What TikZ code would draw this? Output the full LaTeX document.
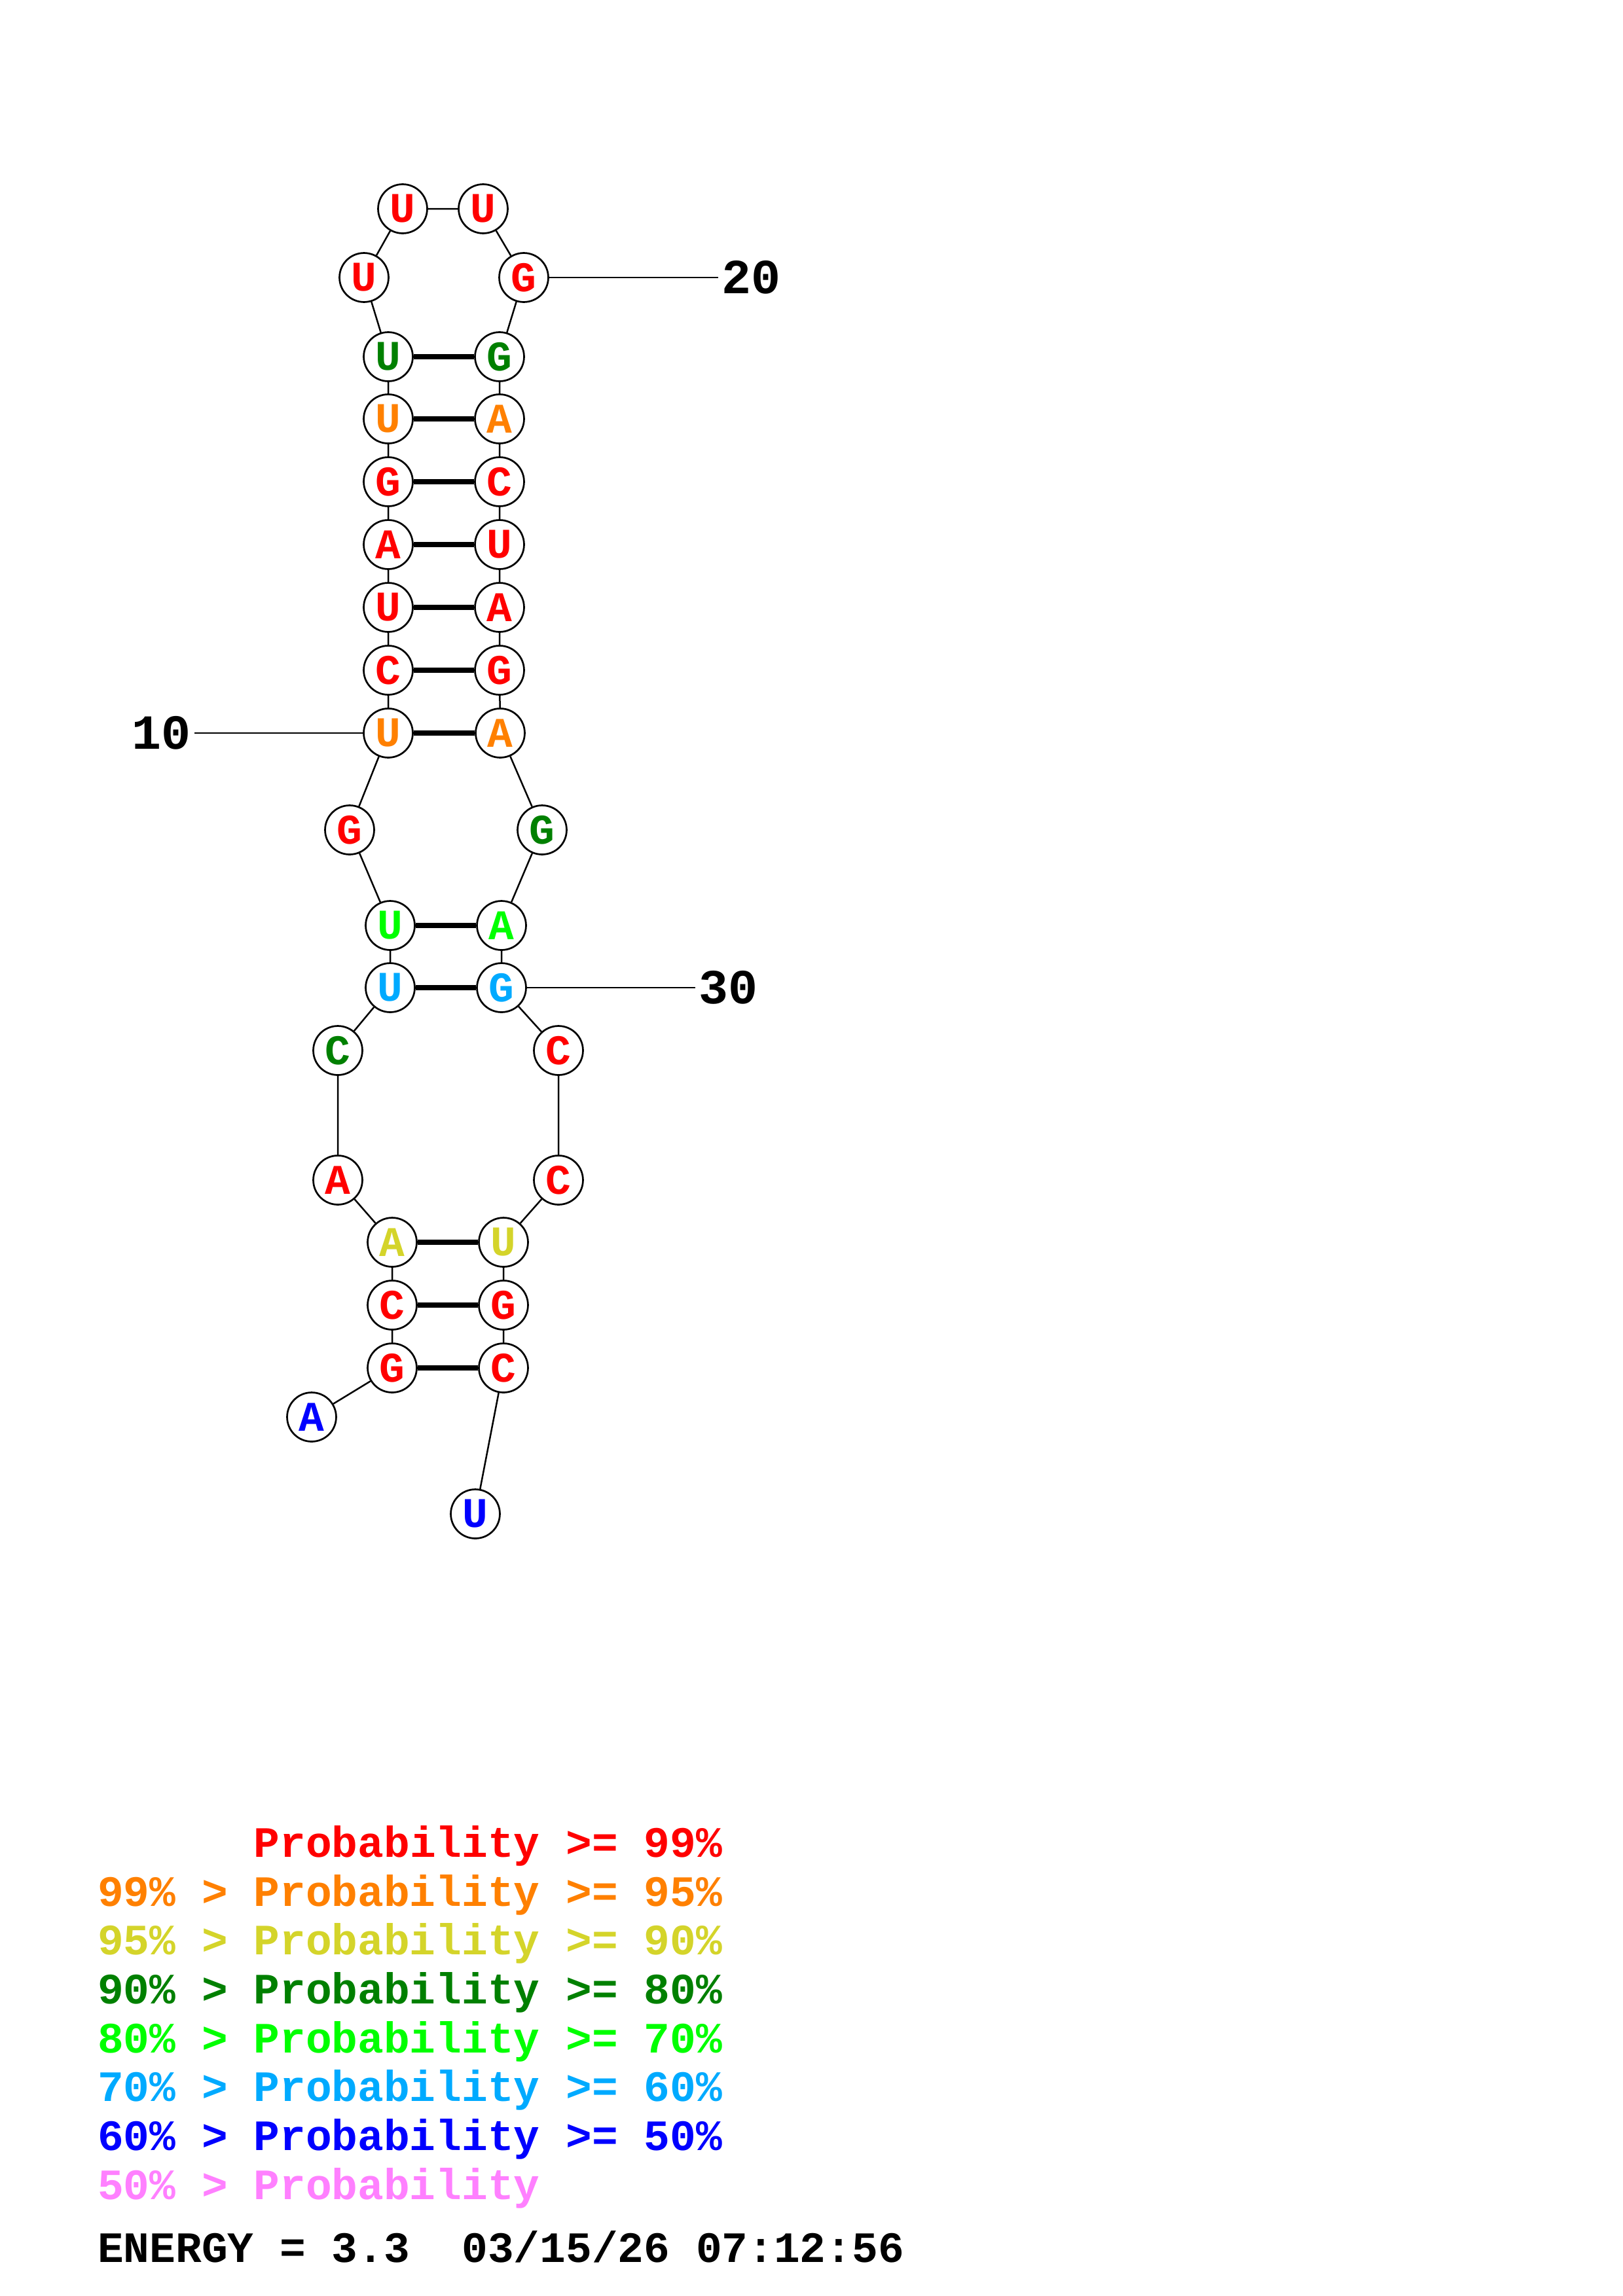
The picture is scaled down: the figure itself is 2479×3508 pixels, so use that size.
\documentclass[tikz,border=0pt]{standalone}
\usepackage{fontspec}
\setmonofont{Liberation Mono}
\usepackage{tikz}
\definecolor{pred}{RGB}{255,0,0}
\definecolor{porange}{RGB}{255,128,0}
\definecolor{pyellow}{RGB}{212,212,42}
\definecolor{pgreen}{RGB}{0,128,0}
\definecolor{plime}{RGB}{0,255,0}
\definecolor{psky}{RGB}{0,170,255}
\definecolor{pblue}{RGB}{0,0,255}
\definecolor{ppink}{RGB}{255,128,255}
\tikzset{nt/.style={circle,draw,fill=white,line width=.65pt,minimum size=18pt,inner sep=0pt,font=\ttfamily\bfseries\fontsize{15.5}{15.5}\selectfont}}
\tikzset{bond/.style={line width=1.9pt}}
\tikzset{lbl/.style={inner sep=1pt,font=\ttfamily\bfseries\fontsize{18}{18}\selectfont}}
\tikzset{key/.style={anchor=base west,inner sep=0pt,font=\ttfamily\bfseries\fontsize{15.9}{15.9}\selectfont}}
\begin{document}
\begin{tikzpicture}[x=0.24013pt,y=-0.24013pt,line width=.6pt]
      \useasboundingbox (0,0) rectangle (2479,3508);
      \node[nt,text=pblue] (n1) at (476,2165) {A};
      \node[nt,text=pred] (n2) at (599,2090) {G};
      \node[nt,text=pred] (n3) at (599,1994) {C};
      \node[nt,text=pyellow] (n4) at (599,1898) {A};
      \node[nt,text=pred] (n5) at (516,1803) {A};
      \node[nt,text=pgreen] (n6) at (516,1605) {C};
      \node[nt,text=psky] (n7) at (596,1509) {U};
      \node[nt,text=plime] (n8) at (596,1414) {U};
      \node[nt,text=pred] (n9) at (534,1268) {G};
      \node[nt,text=porange] (n10) at (593,1120) {U};
      \node[nt,text=pred] (n11) at (593,1024) {C};
      \node[nt,text=pred] (n12) at (593,928) {U};
      \node[nt,text=pred] (n13) at (593,832) {A};
      \node[nt,text=pred] (n14) at (593,736) {G};
      \node[nt,text=porange] (n15) at (593,640) {U};
      \node[nt,text=pgreen] (n16) at (593,545) {U};
      \node[nt,text=pred] (n17) at (556,424) {U};
      \node[nt,text=pred] (n18) at (615,319) {U};
      \node[nt,text=pred] (n19) at (738,319) {U};
      \node[nt,text=pred] (n20) at (800,424) {G};
      \node[nt,text=pgreen] (n21) at (763,545) {G};
      \node[nt,text=porange] (n22) at (763,640) {A};
      \node[nt,text=pred] (n23) at (763,736) {C};
      \node[nt,text=pred] (n24) at (763,832) {U};
      \node[nt,text=pred] (n25) at (763,928) {A};
      \node[nt,text=pred] (n26) at (763,1024) {G};
      \node[nt,text=porange] (n27) at (764,1120) {A};
      \node[nt,text=pgreen] (n28) at (828,1268) {G};
      \node[nt,text=plime] (n29) at (766,1414) {A};
      \node[nt,text=psky] (n30) at (766,1509) {G};
      \node[nt,text=pred] (n31) at (853,1605) {C};
      \node[nt,text=pred] (n32) at (853,1803) {C};
      \node[nt,text=pyellow] (n33) at (769,1898) {U};
      \node[nt,text=pred] (n34) at (769,1994) {G};
      \node[nt,text=pred] (n35) at (769,2090) {C};
      \node[nt,text=pblue] (n36) at (726,2313) {U};
      % backbone
      \draw (n1) -- (n2) -- (n3) -- (n4) -- (n5) -- (n6) -- (n7) -- (n8) -- (n9)
      -- (n10) -- (n11) -- (n12) -- (n13) -- (n14) -- (n15) -- (n16) -- (n17) -- (n18)
      -- (n19) -- (n20) -- (n21) -- (n22) -- (n23) -- (n24) -- (n25) -- (n26) -- (n27)
      -- (n28) -- (n29) -- (n30) -- (n31) -- (n32) -- (n33) -- (n34) -- (n35) -- (n36);
      % pairs
      \draw[bond] (n2) -- (n35) (n3) -- (n34) (n4) -- (n33)
      (n7) -- (n30) (n8) -- (n29)
      (n10) -- (n27) (n11) -- (n26) (n12) -- (n25) (n13) -- (n24)
      (n14) -- (n23) (n15) -- (n22) (n16) -- (n21);
      % numbering
      \coordinate (c10) at (297,1120);
      \coordinate (c20) at (1097,424);
      \coordinate (c30) at (1062,1509);
      \draw (n10) -- (c10) (n20) -- (c20) (n30) -- (c30);
      \node[lbl,anchor=east] (l10) at (c10) {10};
      \node[lbl,anchor=west] (l20) at (c20) {20};
      \node[lbl,anchor=west] (l30) at (c30) {30};
      % key
      \node[key,text=pred] (k1) at (148,2837) {\phantom{99\% > }Probability >= 99\%};
      \node[key,text=porange] (k2) at (148,2912) {99\% > Probability >= 95\%};
      \node[key,text=pyellow] (k3) at (148,2986) {95\% > Probability >= 90\%};
      \node[key,text=pgreen] (k4) at (148,3061) {90\% > Probability >= 80\%};
      \node[key,text=plime] (k5) at (148,3136) {80\% > Probability >= 70\%};
      \node[key,text=psky] (k6) at (148,3210) {70\% > Probability >= 60\%};
      \node[key,text=pblue] (k7) at (148,3285) {60\% > Probability >= 50\%};
      \node[key,text=ppink] (k8) at (148,3360) {50\% > Probability};
      \node[key] (en) at (148,3456) {ENERGY = 3.3\ \ 03/15/26 07:12:56};
    \end{tikzpicture}
\end{document}
